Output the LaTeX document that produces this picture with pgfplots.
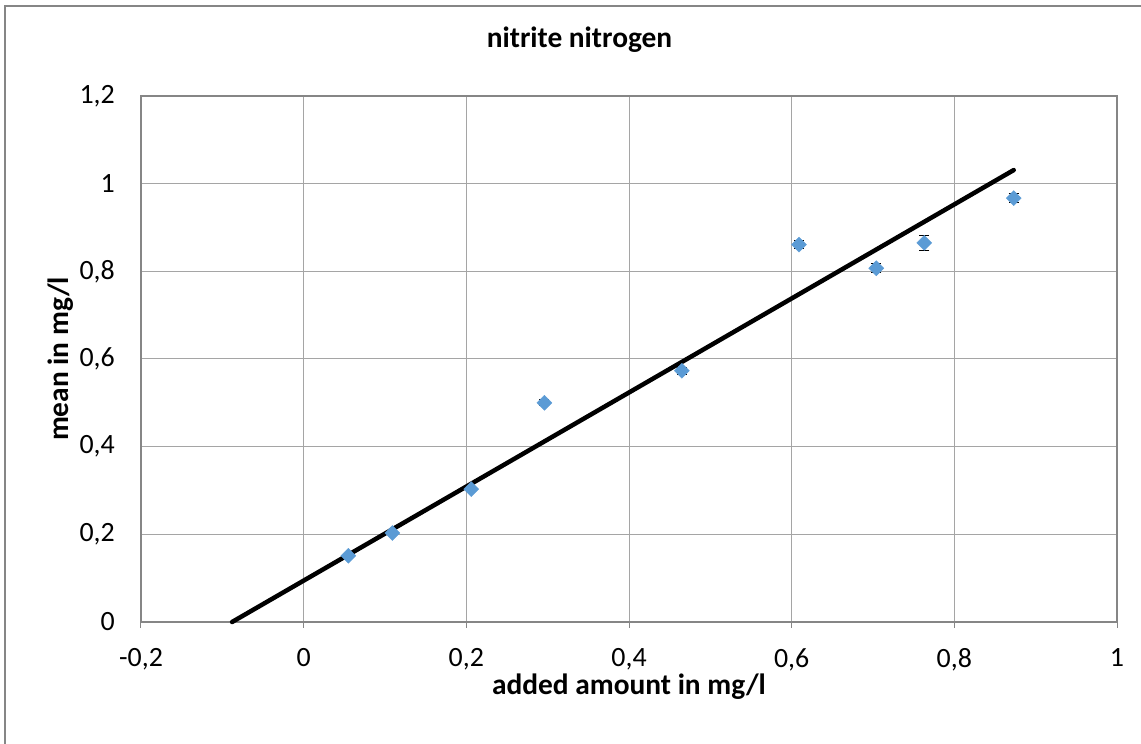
\documentclass[border=0pt]{standalone}
\usepackage{pgfplots}
\pgfplotsset{compat=1.18}
\usepackage{fontspec}
\setmainfont{Carlito}
\usetikzlibrary{calc}
\definecolor{mk}{HTML}{5B9BD5}
\definecolor{gridc}{RGB}{165,165,165}
\definecolor{axc}{RGB}{134,134,134}
\begin{document}
\begin{tikzpicture}[x=1bp,y=1bp]
\begin{axis}[
  scale only axis, width=976bp, height=526bp,
  xmin=-0.2, xmax=1, ymin=0, ymax=1.2,
  xtick={-0.2,0,0.2,0.4,0.6,0.8,1},
  ytick={0,0.2,0.4,0.6,0.8,1,1.2},
  /pgf/number format/.cd, use comma, fixed, assume math mode=true,
  /pgfplots/.cd,
  grid=major,
  major grid style={gridc, line width=1bp},
  axis line style={axc, line width=1.5bp},
  tick align=outside, major tick length=6bp,
  xtick pos=lower, ytick pos=left,
  xtick style={axc, line width=1bp},
  ytick style={draw=none},
  ticklabel style={font=\fontsize{28}{33}\selectfont, inner sep=0pt},
  xticklabel style={yshift=-20bp},
  yticklabel style={xshift=-20bp},
  xlabel={\textbf{added amount in mg/l}},
  ylabel={\textbf{mean in mg/l}},
  label style={font=\fontsize{29.5}{35}\selectfont},
  xlabel style={at={(axis description cs:0.5,0)}, anchor=base, yshift=-72bp, inner sep=0pt},
  ylabel style={at={(axis description cs:0,0.5)}, anchor=base, yshift=72bp, inner sep=0pt},
  title={\textbf{nitrite nitrogen}},
  title style={font=\fontsize{29.5}{35}\selectfont, at={(rel axis cs:0,1)}, anchor=base, xshift=438.5bp, yshift=43bp, inner sep=0pt},
  clip=false,
]
\coordinate (sw) at (rel axis cs:0,0);
\addplot[black, line width=4.5bp, line cap=round] coordinates {(-0.088,0) (0.873,1.031)};
\addplot[only marks, mark=square*, mark size=5.3bp,
  mark options={rotate=45, fill=mk, draw=mk},
  error bars/.cd, y dir=both, y explicit,
  error bar style={black, line width=1bp},
  error mark options={black, line width=1bp, rotate=90, mark size=5bp}]
  coordinates {
  (0.055,0.151) +- (0,0.004)
  (0.109,0.203) +- (0,0.004)
  (0.206,0.303) +- (0,0.005)
  (0.296,0.500) +- (0,0.007)
  (0.465,0.573) +- (0,0.008)
  (0.609,0.861) +- (0,0.010)
  (0.704,0.807) +- (0,0.010)
  (0.763,0.865) +- (0,0.017)
  (0.873,0.967) +- (0,0.011)
  };
\end{axis}
\useasboundingbox ($(sw)+(-141,-122)$) rectangle ($(sw)+(1000,622)$);
\draw[axc, line width=1.2bp] ($(sw)+(-136,-125)$) -- ($(sw)+(-136,616)$) -- ($(sw)+(1005,616)$);
\end{tikzpicture}
\end{document}
